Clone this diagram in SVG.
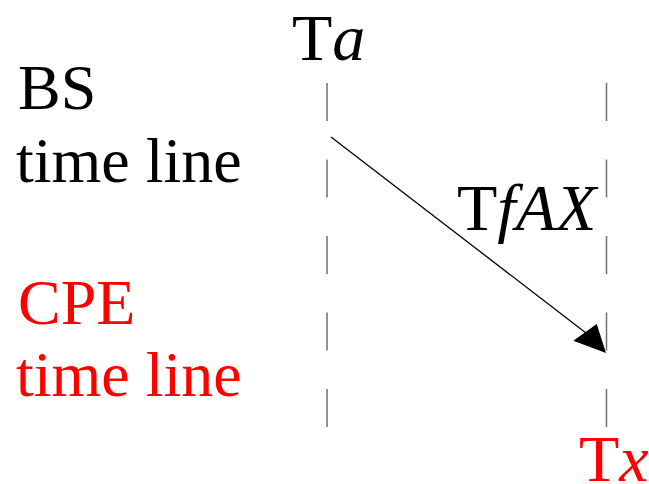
<svg xmlns="http://www.w3.org/2000/svg" width="649" height="484" viewBox="0 0 649 484">
<style>
.t{font-family:"Liberation Serif","Times New Roman",serif;font-size:64px}
.big{font-size:66px}
.red{fill:#ff0000}
.tl{stroke:#707070;stroke-width:1.5;stroke-dasharray:38 38.5;fill:none}
</style>
<rect width="649" height="484" fill="#fff"/>
<g id="bs-label"><text class="t" x="18" y="109">BS</text><text class="t" x="16" y="182">time line</text></g>
<g id="cpe-label"><text class="t red" x="18" y="324">CPE</text><text class="t red" x="16" y="396">time line</text></g>
<g id="timeline-a"><line class="tl" x1="327" y1="83" x2="327" y2="428"/><text class="t big" x="292" y="60">T<tspan font-style="italic">a</tspan></text></g>
<g id="timeline-x"><line class="tl" x1="606.5" y1="83" x2="606.5" y2="428"/><text class="t big red" x="579" y="481">T<tspan font-style="italic">x</tspan></text></g>
<g id="connectors">
<line x1="331" y1="137" x2="586" y2="333" stroke="#000" stroke-width="1.3"/>
<polygon points="606,353 573.3,340.7 596.7,324" fill="#000"/>
<text class="t big" x="457" y="230">T<tspan font-style="italic">fAX</tspan></text>
</g>
</svg>
